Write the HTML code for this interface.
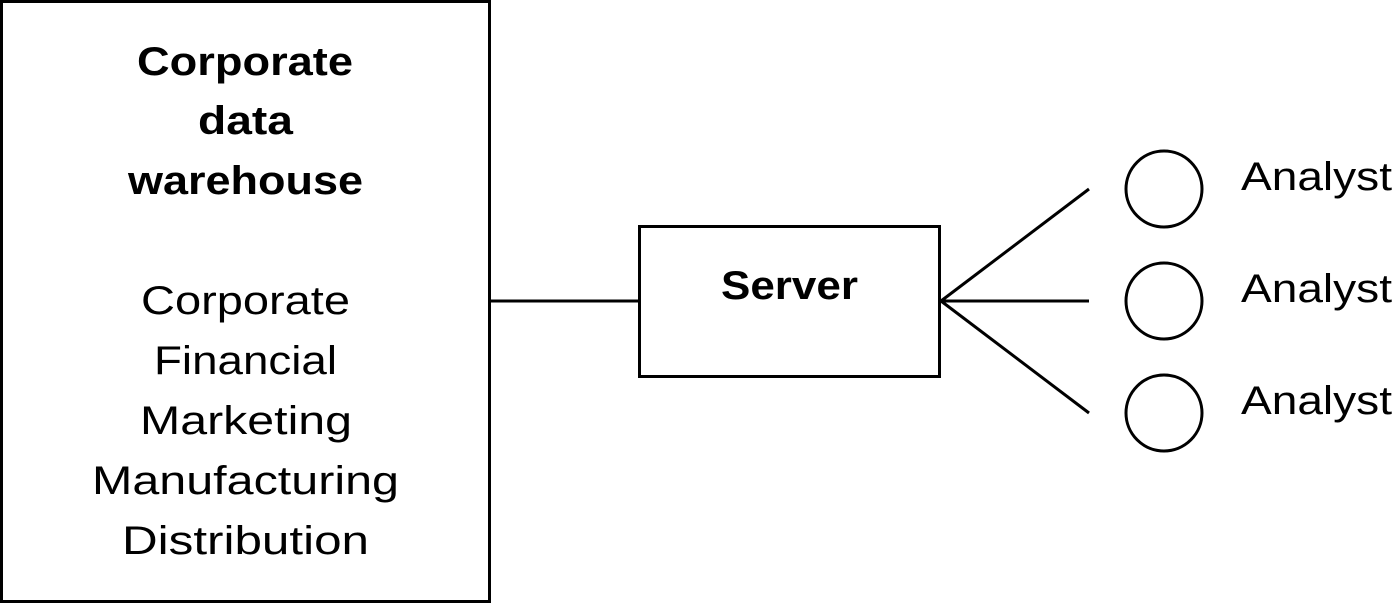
<!DOCTYPE html>
<html><head><style>html,body{margin:0;padding:0;background:#fff}svg{display:block}</style></head>
<body>
<svg width="1393" height="604" viewBox="0 0 1393 604" xmlns="http://www.w3.org/2000/svg" font-family="Liberation Sans, sans-serif" font-size="40" fill="#000">
<rect x="1.5" y="1.5" width="488" height="600" fill="none" stroke="#000" stroke-width="3"/>
<rect x="639.5" y="226.5" width="300" height="150" fill="none" stroke="#000" stroke-width="3"/>
<g stroke="#000" stroke-width="3" fill="none">
<line x1="490" y1="301" x2="639" y2="301"/>
<line x1="941" y1="301" x2="1089" y2="189"/>
<line x1="941" y1="301" x2="1089" y2="301"/>
<line x1="941" y1="301" x2="1089" y2="413"/>
<circle cx="1164" cy="189" r="38"/>
<circle cx="1164" cy="301" r="38"/>
<circle cx="1164" cy="413" r="38"/>
</g>
<g font-weight="bold">
<text x="137" y="75" textLength="216" lengthAdjust="spacingAndGlyphs">Corporate</text>
<text x="198" y="134" textLength="95" lengthAdjust="spacingAndGlyphs">data</text>
<text x="128" y="194" textLength="235" lengthAdjust="spacingAndGlyphs">warehouse</text>
<text x="721" y="299" textLength="137" lengthAdjust="spacingAndGlyphs">Server</text>
</g>
<text x="141" y="314" textLength="209" lengthAdjust="spacingAndGlyphs">Corporate</text>
<text x="154" y="374" textLength="183" lengthAdjust="spacingAndGlyphs">Financial</text>
<text x="140" y="434" textLength="212" lengthAdjust="spacingAndGlyphs">Marketing</text>
<text x="92" y="494" textLength="307" lengthAdjust="spacingAndGlyphs">Manufacturing</text>
<text x="122" y="554" textLength="247" lengthAdjust="spacingAndGlyphs">Distribution</text>
<text x="1241" y="190" textLength="151" lengthAdjust="spacingAndGlyphs">Analyst</text>
<text x="1241" y="302" textLength="151" lengthAdjust="spacingAndGlyphs">Analyst</text>
<text x="1241" y="414" textLength="151" lengthAdjust="spacingAndGlyphs">Analyst</text>
</svg>
</body></html>
